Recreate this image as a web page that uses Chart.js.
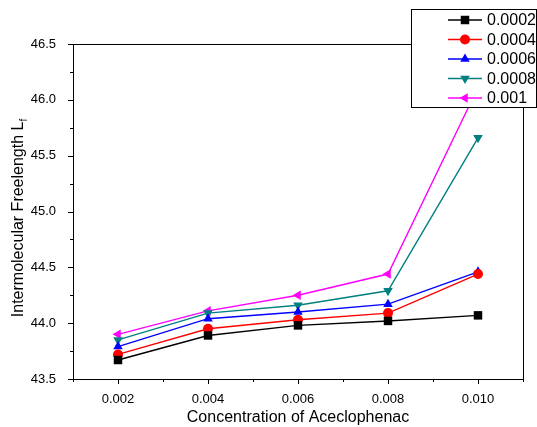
<!DOCTYPE html>
<html>
<head>
<meta charset="utf-8">
<script src="https://cdn.jsdelivr.net/npm/chart.js@4/dist/chart.umd.min.js"></script>
<style>
  html, body { margin: 0; padding: 0; background: #fff; }
  canvas { display: block; }
</style>
</head>
<body>
<canvas id="chart" width="537" height="427"></canvas>
<script>
// concentration of aceclophenac (x axis)
const concentrations = [0.002, 0.004, 0.006, 0.008, 0.010];

// series names (legend)
const seriesNames = ['0.0002', '0.0004', '0.0006', '0.0008', '0.001'];

// intermolecular free length values per series
const lf0002 = [43.67, 43.89, 43.98, 44.02, 44.07];
const lf0004 = [43.72, 43.95, 44.03, 44.09, 44.44];
const lf0006 = [43.79, 44.04, 44.10, 44.17, 44.46];
const lf0008 = [43.85, 44.09, 44.16, 44.29, 45.66];
const lf001 = [43.90, 44.11, 44.25, 44.44, 46.11];

const xTicks = [0.002, 0.004, 0.006, 0.008, 0.010];
const yTicks = [43.5, 44.0, 44.5, 45.0, 45.5, 46.0, 46.5];

const FONT = '"Liberation Sans", Arial, sans-serif';

const styles = [
  { color: '#000000', point: 'rect', radius: 6, rotation: 0 },
  { color: '#ff0000', point: 'circle', radius: 5, rotation: 0 },
  { color: '#0000ff', point: 'triangle', radius: 5.5, rotation: 0 },
  { color: '#008080', point: 'triangle', radius: 5.5, rotation: 180 },
  { color: '#ff00ff', point: 'triangle', radius: 5.5, rotation: 270 },
];

const allSeries = [lf0002, lf0004, lf0006, lf0008, lf001];

const datasets = allSeries.map((vals, i) => ({
  label: seriesNames[i],
  data: vals.map((v, j) => ({ x: concentrations[j], y: v })),
  borderColor: styles[i].color,
  backgroundColor: styles[i].color,
  borderWidth: 1.4,
  pointStyle: styles[i].point,
  pointRadius: styles[i].radius,
  pointRotation: styles[i].rotation,
  pointBorderWidth: 0,
  tension: 0,
}));

// frame, ticks, axis titles and legend drawn by hand
const framePlugin = {
  id: 'frame',
  afterDraw(chart) {
    const ctx = chart.ctx;
    const a = chart.chartArea;
    const xs = chart.scales.x;
    const ys = chart.scales.y;
    ctx.save();
    ctx.strokeStyle = '#000';
    ctx.lineWidth = 1;
    ctx.strokeRect(Math.round(a.left) + 0.5, Math.round(a.top) + 0.5,
      Math.round(a.right - a.left), Math.round(a.bottom - a.top));

    // x ticks
    for (let v = 0.001; v <= 0.0110001; v += 0.001) {
      const px = Math.round(xs.getPixelForValue(v)) + 0.5;
      const major = Math.round(v * 1000) % 2 === 0;
      ctx.beginPath();
      ctx.moveTo(px, a.bottom);
      ctx.lineTo(px, a.bottom + (major ? 5 : 3));
      ctx.stroke();
    }
    // y ticks
    for (let v = 43.5; v <= 46.5001; v += 0.25) {
      const py = Math.round(ys.getPixelForValue(v)) + 0.5;
      const major = Math.abs(v * 2 - Math.round(v * 2)) < 1e-6;
      ctx.beginPath();
      ctx.moveTo(a.left, py);
      ctx.lineTo(a.left - (major ? 5 : 3), py);
      ctx.stroke();
    }

    // axis titles
    ctx.fillStyle = '#000';
    ctx.font = '16px ' + FONT;
    ctx.textAlign = 'center';
    ctx.textBaseline = 'middle';
    ctx.fillText('Concentration of Aceclophenac', (a.left + a.right) / 2, 418);

    ctx.save();
    ctx.translate(19, 218);
    ctx.rotate(-Math.PI / 2);
    const main = 'Intermolecular Freelength L';
    const wMain = ctx.measureText(main).width;
    ctx.font = '10px ' + FONT;
    const wSub = ctx.measureText('f').width;
    const total = wMain + wSub;
    ctx.textAlign = 'left';
    ctx.font = '16px ' + FONT;
    ctx.fillText(main, -total / 2, 0);
    ctx.font = '10px ' + FONT;
    ctx.fillText('f', -total / 2 + wMain, 5);
    ctx.restore();

    // legend box
    const lx = 411.5, ly = 9.5, lw = 125, lh = 98;
    ctx.fillStyle = '#fff';
    ctx.fillRect(lx, ly, lw, lh);
    ctx.strokeRect(lx, ly, lw, lh);
    chart.data.datasets.forEach((ds, i) => {
      const cy = 20 + i * 19.5;
      ctx.strokeStyle = ds.borderColor;
      ctx.lineWidth = 1.4;
      ctx.beginPath();
      ctx.moveTo(448, cy);
      ctx.lineTo(482, cy);
      ctx.stroke();
      ctx.fillStyle = ds.backgroundColor;
      Chart.helpers.drawPoint(ctx, {
        pointStyle: ds.pointStyle,
        radius: ds.pointRadius,
        rotation: ds.pointRotation,
        borderWidth: 0,
      }, 465, cy);
      ctx.fillStyle = '#000';
      ctx.font = '16px ' + FONT;
      ctx.textAlign = 'left';
      ctx.textBaseline = 'middle';
      ctx.fillText(ds.label, 487, cy + 1);
    });
    ctx.restore();
  }
};

new Chart(document.getElementById('chart'), {
  type: 'line',
  data: { datasets },
  options: {
    responsive: false,
    animation: false,
    layout: { padding: { left: 0, top: 44, right: 14, bottom: 0 } },
    plugins: {
      legend: { display: false },
      tooltip: { enabled: false },
    },
    scales: {
      x: {
        type: 'linear',
        min: 0.001,
        max: 0.011,
        grid: { display: false },
        border: { display: false },
        afterFit: (s) => { s.height = 48; },
        afterBuildTicks: (s) => { s.ticks = xTicks.map((v) => ({ value: v })); },
        ticks: {
          color: '#000',
          padding: 5,
          maxRotation: 0,
          font: { family: FONT, size: 13 },
          callback: (v) => v.toFixed(3),
        },
      },
      y: {
        type: 'linear',
        min: 43.5,
        max: 46.5,
        grid: { display: false },
        border: { display: false },
        afterFit: (s) => { s.width = 73; },
        afterBuildTicks: (s) => { s.ticks = yTicks.map((v) => ({ value: v })); },
        ticks: {
          color: '#000',
          padding: 9,
          font: { family: FONT, size: 13 },
          callback: (v) => v.toFixed(1),
        },
      },
    },
  },
  plugins: [framePlugin],
});
</script>
</body>
</html>
